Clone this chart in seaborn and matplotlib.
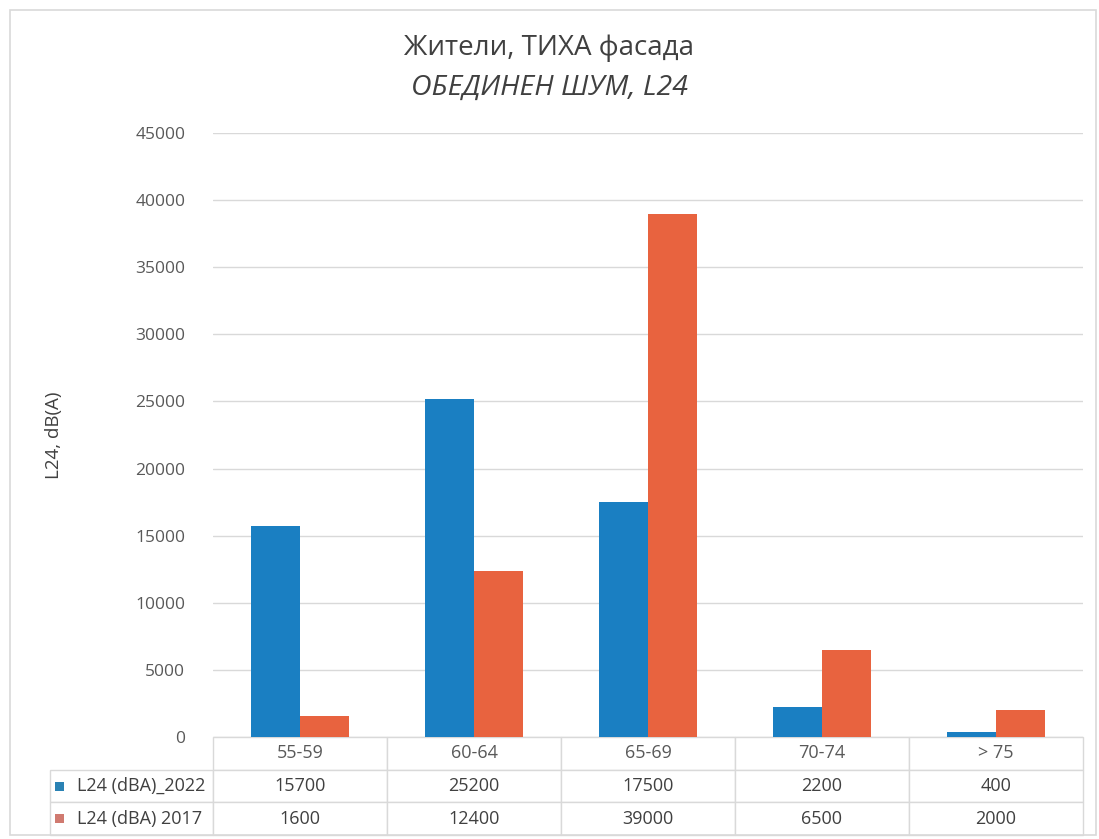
import matplotlib
matplotlib.use("Agg")
import matplotlib.pyplot as plt
from matplotlib.patches import Rectangle
import pandas as pd
import seaborn as sns

# Noise-band categories and resident counts per year
categories = ["55-59", "60-64", "65-69", "70-74", "> 75"]
series_labels = ["L24 (dBA)_2022", "L24 (dBA) 2017"]
values_2022 = [15700, 25200, 17500, 2200, 400]
values_2017 = [1600, 12400, 39000, 6500, 2000]
y_ticks = [0, 5000, 10000, 15000, 20000, 25000, 30000, 35000, 40000, 45000]

title_main = "Жители, ТИХА фасада"
title_sub = "ОБЕДИНЕН ШУМ, L24"
y_label = "L24, dB(A)"

colors = ["#1a7fc2", "#e8633f"]
legend_colors = ["#2a82b4", "#d07a70"]

sns.set_theme(style="white")
plt.rcParams["font.family"] = ["Open Sans", "DejaVu Sans"]

df = pd.DataFrame({
    "band": categories * 2,
    "series": [series_labels[0]] * len(categories) + [series_labels[1]] * len(categories),
    "value": values_2022 + values_2017,
})

W, H = 1099, 839
fig = plt.figure(figsize=(W / 100, H / 100), dpi=100)
fig.patch.set_facecolor("white")

# Outer chart frame
fig.add_artist(Rectangle((10 / W, 4 / H), 1086 / W, (H - 14) / H, transform=fig.transFigure,
                         facecolor="none", edgecolor="#d9d9d9", lw=1.2))

ax_left, ax_right = 213, 1083
ax_top, ax_bottom = 133, 737
ax = fig.add_axes([ax_left / W, 1 - ax_bottom / H, (ax_right - ax_left) / W, (ax_bottom - ax_top) / H])

sns.barplot(data=df, x="band", y="value", hue="series", order=categories,
            hue_order=series_labels, palette=colors, width=0.56, saturation=1,
            linewidth=0, edgecolor="none", legend=False, ax=ax, zorder=3)

ax.set_ylim(0, 45000)
ax.set_xlim(-0.5, len(categories) - 0.5)
ax.set_yticks(y_ticks)
ax.set_yticklabels([str(t) for t in y_ticks], fontsize=12.5, color="#595959")
ax.tick_params(axis="y", length=0, pad=20)
ax.set_xticks([])
ax.set_xlabel("")
ax.set_ylabel(y_label, fontsize=13.5, color="#404040", labelpad=0)
ax.yaxis.set_label_coords(-(ax_left - 63) / (ax_right - ax_left), 0.5)
ax.grid(axis="y", color="#d9d9d9", lw=1, zorder=0)
for s in ax.spines.values():
    s.set_visible(False)

# Data table beneath the plot
ax_w = ax_right - ax_left
ax_h = ax_bottom - ax_top
label_w = 163
table_h = 98
cell_text = [[""] + categories,
             [series_labels[0]] + [str(v) for v in values_2022],
             [series_labels[1]] + [str(v) for v in values_2017]]
col_widths = [label_w / ax_w] + [1 / len(categories)] * len(categories)
tbl = ax.table(cellText=cell_text, colWidths=col_widths, cellLoc="center",
               bbox=[-label_w / ax_w, -table_h / ax_h, (label_w + ax_w) / ax_w, table_h / ax_h])
tbl.auto_set_font_size(False)
tbl.set_fontsize(13)
for (r, c), cell in tbl.get_celld().items():
    cell.set_edgecolor("#d9d9d9")
    cell.set_linewidth(1)
    cell.get_text().set_color("#595959" if r == 0 else "#404040")
    if r == 0 and c == 0:
        cell.visible_edges = ""
    if c == 0 and r > 0:
        cell.get_text().set_ha("left")
        cell._loc = "left"
        cell.PAD = 27 / label_w

# Series keys in the table's label column
row_h = table_h / 3
for i, col in enumerate(legend_colors):
    yc = ax_bottom + row_h * (i + 1.5)
    sq = 9
    ax.add_patch(Rectangle(((55 - ax_left) / ax_w, (ax_bottom - yc - sq / 2) / ax_h), sq / ax_w, sq / ax_h,
                           transform=ax.transAxes, facecolor=col, edgecolor="none", clip_on=False, zorder=5))

fig.text(0.5, 1 - 48 / H, title_main, ha="center", va="center", fontsize=20, color="#404040")
fig.text(0.5, 1 - 88 / H, title_sub, ha="center", va="center", fontsize=20.5, color="#404040", style="italic")

fig.savefig("out.png", dpi=100)
